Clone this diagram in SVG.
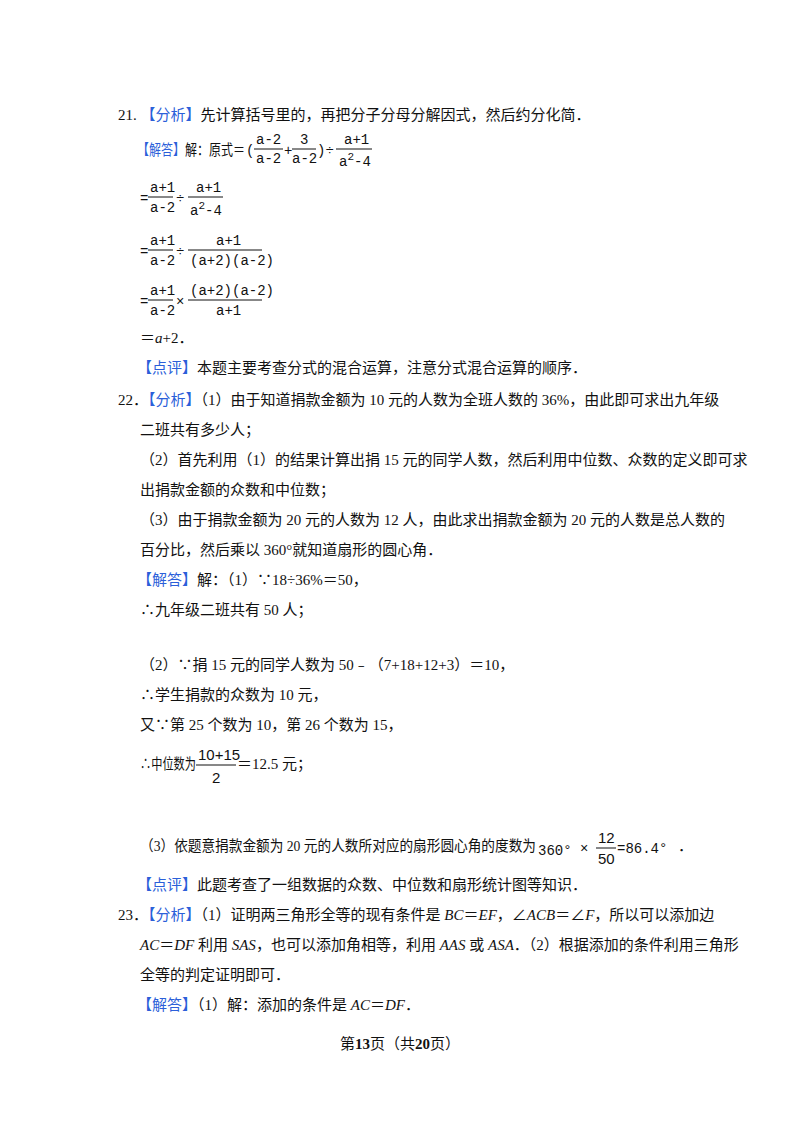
<svg xmlns="http://www.w3.org/2000/svg" width="800" height="1132" viewBox="0 0 800 1132">
<style>
text{font-family:"Liberation Serif","Noto Sans CJK SC",serif;font-size:15px;fill:#111}
.b{fill:#2b5fd9}
.m{font-family:"Liberation Mono","Noto Sans CJK SC",monospace;font-size:14px}
.s{font-family:"Liberation Sans",sans-serif;font-size:15px}
.i{font-style:italic}
line{stroke:#111;stroke-width:1}
</style>
<rect width="800" height="1132" fill="#fff"/>
<g id="q21">
<text x="118" y="120">21.  <tspan class="b">【分析】</tspan>先计算括号里的，再把分子分母分解因式，然后约分化简．</text>
<text x="137" y="155" textLength="108" lengthAdjust="spacingAndGlyphs"><tspan class="b">【解答】</tspan>解：原式＝</text>
<text class="m" x="246" y="155">(</text>
<text class="m" x="256" y="144">a-2</text><line x1="254" y1="149" x2="283" y2="149"/><text class="m" x="256" y="163">a-2</text>
<text class="m" x="284" y="155">+</text>
<text class="m" x="300" y="144">3</text><line x1="292" y1="149" x2="316" y2="149"/><text class="m" x="292" y="163">a-2</text>
<text class="m" x="317" y="155">)÷</text>
<text class="m" x="344" y="144">a+1</text><line x1="336" y1="149" x2="372" y2="149"/><text class="m" x="339" y="166">a<tspan dy="-6" font-size="11">2</tspan><tspan dy="6">-4</tspan></text>

<text class="m" x="140" y="203">=</text>
<text class="m" x="150" y="192">a+1</text><line x1="148" y1="197" x2="173" y2="197"/><text class="m" x="150" y="212">a-2</text>
<text class="m" x="176" y="203">÷</text>
<text class="m" x="196" y="192">a+1</text><line x1="188" y1="197" x2="223" y2="197"/><text class="m" x="190" y="215">a<tspan dy="-6" font-size="11">2</tspan><tspan dy="6">-4</tspan></text>

<text class="m" x="140" y="256">=</text>
<text class="m" x="150" y="245">a+1</text><line x1="148" y1="250" x2="173" y2="250"/><text class="m" x="150" y="265">a-2</text>
<text class="m" x="176" y="256">÷</text>
<text class="m" x="216" y="245">a+1</text><line x1="188" y1="250" x2="262" y2="250"/><text class="m" x="190" y="265">(a+2)(a-2)</text>

<text class="m" x="140" y="306">=</text>
<text class="m" x="150" y="295">a+1</text><line x1="148" y1="300" x2="173" y2="300"/><text class="m" x="150" y="315">a-2</text>
<text class="m" x="176" y="306">×</text>
<text class="m" x="190" y="295">(a+2)(a-2)</text><line x1="188" y1="300" x2="262" y2="300"/><text class="m" x="216" y="315">a+1</text>

<text x="140" y="343">＝<tspan class="i">a</tspan>+2．</text>
<text x="137" y="373"><tspan class="b">【点评】</tspan>本题主要考查分式的混合运算，注意分式混合运算的顺序．</text>
</g>
<g id="q22">
<text x="118" y="405">22．<tspan class="b">【分析】</tspan>（1）由于知道捐款金额为 10 元的人数为全班人数的 36%，由此即可求出九年级</text>
<text x="140" y="435">二班共有多少人；</text>
<text x="140" y="465">（2）首先利用（1）的结果计算出捐 15 元的同学人数，然后利用中位数、众数的定义即可求</text>
<text x="140" y="495">出捐款金额的众数和中位数；</text>
<text x="140" y="525">（3）由于捐款金额为 20 元的人数为 12 人，由此求出捐款金额为 20 元的人数是总人数的</text>
<text x="140" y="555">百分比，然后乘以 360°就知道扇形的圆心角．</text>
<text x="137" y="585"><tspan class="b">【解答】</tspan>解：（1）∵18÷36%＝50，</text>
<text x="140" y="615">∴九年级二班共有 50 人；</text>
<text x="140" y="670">（2）∵捐 15 元的同学人数为 50﹣（7+18+12+3）＝10，</text>
<text x="140" y="700">∴学生捐款的众数为 10 元，</text>
<text x="140" y="730">又∵第 25 个数为 10，第 26 个数为 15，</text>
<text x="140" y="769" textLength="56" lengthAdjust="spacingAndGlyphs">∴中位数为</text>
<text class="s" x="198" y="760">10+15</text><line x1="196" y1="765" x2="236" y2="765"/><text class="s" x="212" y="783">2</text>
<text x="237" y="769">＝12.5 元；</text>
<text x="140" y="851" textLength="396" lengthAdjust="spacingAndGlyphs">（3）依题意捐款金额为 20 元的人数所对应的扇形圆心角的度数为</text>
<text class="m" x="538" y="855">360°</text>
<text class="m" x="580" y="853">×</text>
<text class="s" x="598" y="843">12</text><line x1="596" y1="848" x2="616" y2="848"/><text class="s" x="598" y="864">50</text>
<text class="m" x="617" y="853">=86.4°</text>
<text x="678" y="851">．</text>
<text x="137" y="890"><tspan class="b">【点评】</tspan>此题考查了一组数据的众数、中位数和扇形统计图等知识．</text>
</g>
<g id="q23">
<text x="118" y="920">23．<tspan class="b">【分析】</tspan>（1）证明两三角形全等的现有条件是 <tspan class="i">BC</tspan>＝<tspan class="i">EF</tspan>，∠<tspan class="i">ACB</tspan>＝∠<tspan class="i">F</tspan>，所以可以添加边</text>
<text x="140" y="950"><tspan class="i">AC</tspan>＝<tspan class="i">DF</tspan> 利用 <tspan class="i">SAS</tspan>，也可以添加角相等，利用 <tspan class="i">AAS</tspan> 或 <tspan class="i">ASA</tspan>．（2）根据添加的条件利用三角形</text>
<text x="140" y="980">全等的判定证明即可．</text>
<text x="137" y="1010"><tspan class="b">【解答】</tspan>（1）解：添加的条件是 <tspan class="i">AC</tspan>＝<tspan class="i">DF</tspan>．</text>
</g>
<text x="400" y="1049" text-anchor="middle" font-size="13">第<tspan font-weight="bold" font-size="15">13</tspan>页（共<tspan font-weight="bold" font-size="15">20</tspan>页）</text>
</svg>
